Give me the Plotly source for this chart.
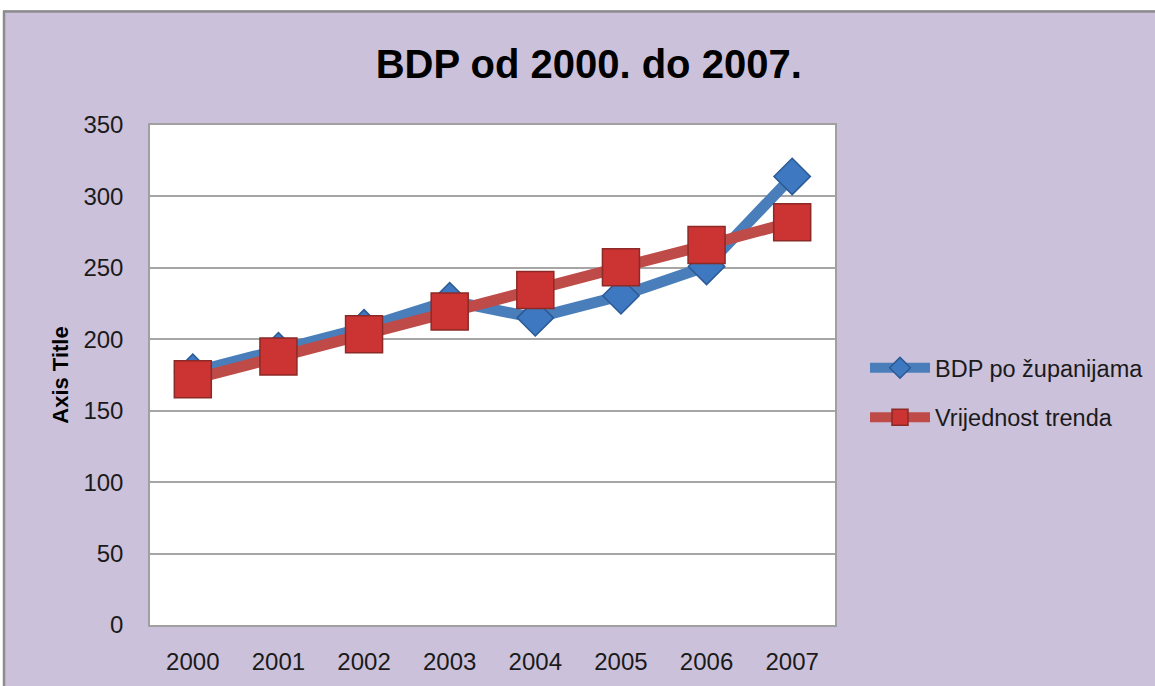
import plotly.graph_objects as go

years = ["2000", "2001", "2002", "2003", "2004", "2005", "2006", "2007"]
bdp_values = [177, 192, 208, 227, 215, 230.5, 251, 314]
trend_values = [172, 188, 203.5, 219.5, 234.5, 250.5, 266, 282]
y_ticks = [0, 50, 100, 150, 200, 250, 300, 350]

W, H = 1155, 686
L, R, T, B = 150, 835, 125, 625  # plot area in px


def px_x(p):
    return (p - L) / (R - L)


def px_y(p):
    return (B - p) / (B - T)


font_family = "Liberation Sans, Arial, sans-serif"

fig = go.Figure()
fig.add_trace(go.Scatter(
    x=years, y=bdp_values, name="BDP po županijama", mode="lines+markers",
    line=dict(color="#4A7EBB", width=11),
    marker=dict(symbol="diamond", size=28, color="#3E78C0",
                line=dict(color="#2B5A94", width=1.5)),
    legendgroup="a",
))
fig.add_trace(go.Scatter(
    x=years, y=trend_values, name="Vrijednost trenda", mode="lines+markers",
    line=dict(color="#BE4B48", width=11),
    marker=dict(symbol="square", size=37, color="#CC3333",
                line=dict(color="#8B2A27", width=1.5)),
    legendgroup="b",
))

shapes = [
    # white strip above chart and left of it
    dict(type="rect", xref="paper", yref="paper", layer="above",
         x0=px_x(-5), x1=px_x(1170), y0=px_y(10), y1=px_y(-5),
         fillcolor="white", line=dict(width=0)),
    dict(type="rect", xref="paper", yref="paper", layer="above",
         x0=px_x(-5), x1=px_x(3), y0=px_y(700), y1=px_y(-5),
         fillcolor="white", line=dict(width=0)),
    # grey border lines
    dict(type="line", xref="paper", yref="paper", layer="above",
         x0=px_x(3), x1=px_x(1170), y0=px_y(11.5), y1=px_y(11.5),
         line=dict(color="#8C8C8C", width=2.5)),
    dict(type="line", xref="paper", yref="paper", layer="above",
         x0=px_x(4), x1=px_x(4), y0=px_y(11), y1=px_y(700),
         line=dict(color="#8C8C8C", width=2.5)),
]

fig.update_layout(
    width=W, height=H,
    margin=dict(l=L, r=W - R, t=T, b=H - B, autoexpand=False),
    paper_bgcolor="#CCC1DA",
    plot_bgcolor="white",
    shapes=shapes,
    title=dict(text="<b>BDP od 2000. do 2007.</b>", x=588.7 / W, xanchor="center",
               y=1 - 64 / H, yanchor="middle",
               font=dict(family=font_family, size=40, color="#000000")),
    font=dict(family=font_family, color="#1A1A1A"),
    legend=dict(x=px_x(865), xanchor="left", y=px_y(346), yanchor="top",
                bgcolor="rgba(0,0,0,0)", font=dict(size=23.5, color="#1A1A1A"),
                tracegroupgap=16, itemwidth=60),
    showlegend=True,
)

fig.update_xaxes(
    type="category", range=[-0.5, 7.5], showgrid=False,
    showline=True, linecolor="#A0A0A0", linewidth=1.5, mirror=True,
    ticks="", tickfont=dict(size=24, color="#1A1A1A"), ticklabelstandoff=14,
)
fig.update_yaxes(
    range=[0, 350], tickvals=y_ticks, showgrid=True, gridcolor="#A6A6A6", gridwidth=1.5,
    showline=True, linecolor="#A0A0A0", linewidth=1.5, mirror=True, zeroline=False,
    ticks="", tickfont=dict(size=24, color="#1A1A1A"), ticklabelstandoff=20,
    title=dict(text="<b>Axis Title</b>", font=dict(size=22, color="#000000"), standoff=9),
)

fig.write_html("out.html", config={"displayModeBar": False},
               post_script="document.body.style.margin='0';")
